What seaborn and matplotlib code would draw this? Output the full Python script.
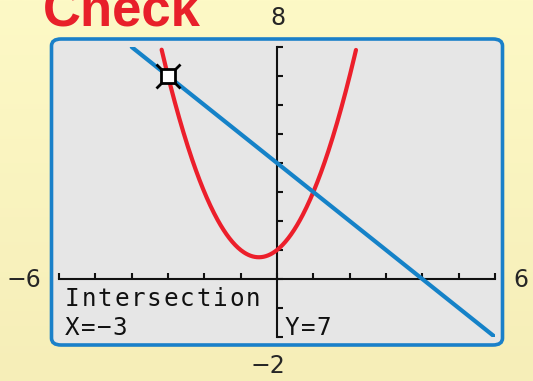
import numpy as np
import pandas as pd
import matplotlib.pyplot as plt
import seaborn as sns
from matplotlib.patches import FancyBboxPatch

sns.set_style('white')
plt.rcParams['font.family'] = ['DejaVu Sans']

# 图像窗口与曲线系数
x_window = [-6, 6]
y_window = [-2, 8]
parabola_coef = [1, 1, 1]   # y = x^2 + x + 1
line_coef = [-1, 4]         # y = -x + 4
intersect = [-3, 7]
x_ticks = list(range(-6, 7))
y_ticks = list(range(-2, 9))

xs = np.linspace(x_window[0], x_window[1], 600)
df = pd.DataFrame({'x': xs,
                   'parabola': np.polyval(parabola_coef, xs),
                   'line': np.polyval(line_coef, xs)})
df = df.melt(id_vars='x', var_name='curve', value_name='y')
df.loc[(df['y'] > y_window[1]) | (df['y'] < y_window[0]), 'y'] = np.nan

W, H = 533, 381
fig = plt.figure(figsize=(W / 100, H / 100), dpi=100)

# 背景渐变
bg = fig.add_axes([0, 0, 1, 1])
grad = np.linspace(0, 1, 256).reshape(-1, 1)
top = np.array([253, 249, 198]) / 255
bot = np.array([246, 238, 184]) / 255
img = top + (bot - top) * grad[..., None]
bg.imshow(img.reshape(256, 1, 3), aspect='auto', extent=[0, 1, 0, 1])
bg.set_axis_off()

# 屏幕圆角框
box = FancyBboxPatch((51.5 / W, 1 - 345 / H), (502.5 - 51.5) / W, (345 - 39) / H,
                     boxstyle='round,pad=0,rounding_size=0.018',
                     transform=fig.transFigure, facecolor='#e6e6e6',
                     edgecolor='#1a80c9', linewidth=2.6, zorder=1)
bg.add_patch(box)

ax = fig.add_axes([59 / W, 1 - 337 / H, 436 / W, 290 / H])
ax.set_facecolor('none')
sns.lineplot(data=df, x='x', y='y', hue='curve',
             palette={'parabola': '#ec1f2b', 'line': '#1582c8'},
             linewidth=3, legend=False, ax=ax, zorder=3)
# 交点光标
ax.plot(intersect[0], intersect[1], marker='x', markersize=17, mew=2,
        color='black', zorder=4)
ax.plot(intersect[0], intersect[1], marker='s', markersize=10, mew=2,
        mfc='white', mec='black', zorder=5)

ax.set_xlim(x_window)
ax.set_ylim(y_window)
ax.spines['left'].set_position(('data', 0))
ax.spines['bottom'].set_position(('data', 0))
ax.spines['right'].set_visible(False)
ax.spines['top'].set_visible(False)
for s in ['left', 'bottom']:
    ax.spines[s].set_linewidth(1.5)
    ax.spines[s].set_color('#111111')
    ax.spines[s].set_zorder(2)
ax.set_xticks(x_ticks)
ax.set_yticks(y_ticks)
ax.tick_params(direction='in', length=4.5, width=1.5, color='#111111',
               labelbottom=False, labelleft=False, bottom=True, left=True)
ax.set_xlabel('')
ax.set_ylabel('')

# 窗口标注
fs = 17
fig.text(278 / W, 1 - 18 / H, '8', ha='center', va='center', fontsize=fs)
fig.text(268 / W, 1 - 366 / H, '\u22122', ha='center', va='center', fontsize=fs)
fig.text(24 / W, 1 - 280 / H, '\u22126', ha='center', va='center', fontsize=fs)
fig.text(521 / W, 1 - 280 / H, '6', ha='center', va='center', fontsize=fs)

fig.text(43 / W, 1 - 25 / H, 'Check', ha='left', va='baseline', fontsize=38,
         fontweight='bold', color='#e8202a', family='Liberation Sans')


# 计算器字体：按固定字距逐字放置
def calc_text(s, x0, y0, pitch=16.4):
    for i, ch in enumerate(s):
        fig.text((x0 + i * pitch + pitch / 2) / W, 1 - y0 / H, ch,
                 ha='center', va='baseline', fontsize=17.5,
                 family='DejaVu Sans Mono', color='#111111')


calc_text('Intersection', 64, 306)
calc_text('X=\u22123', 64, 335, pitch=16)
calc_text('Y=7', 284, 335, pitch=16)

fig.savefig('out.png', dpi=100)
